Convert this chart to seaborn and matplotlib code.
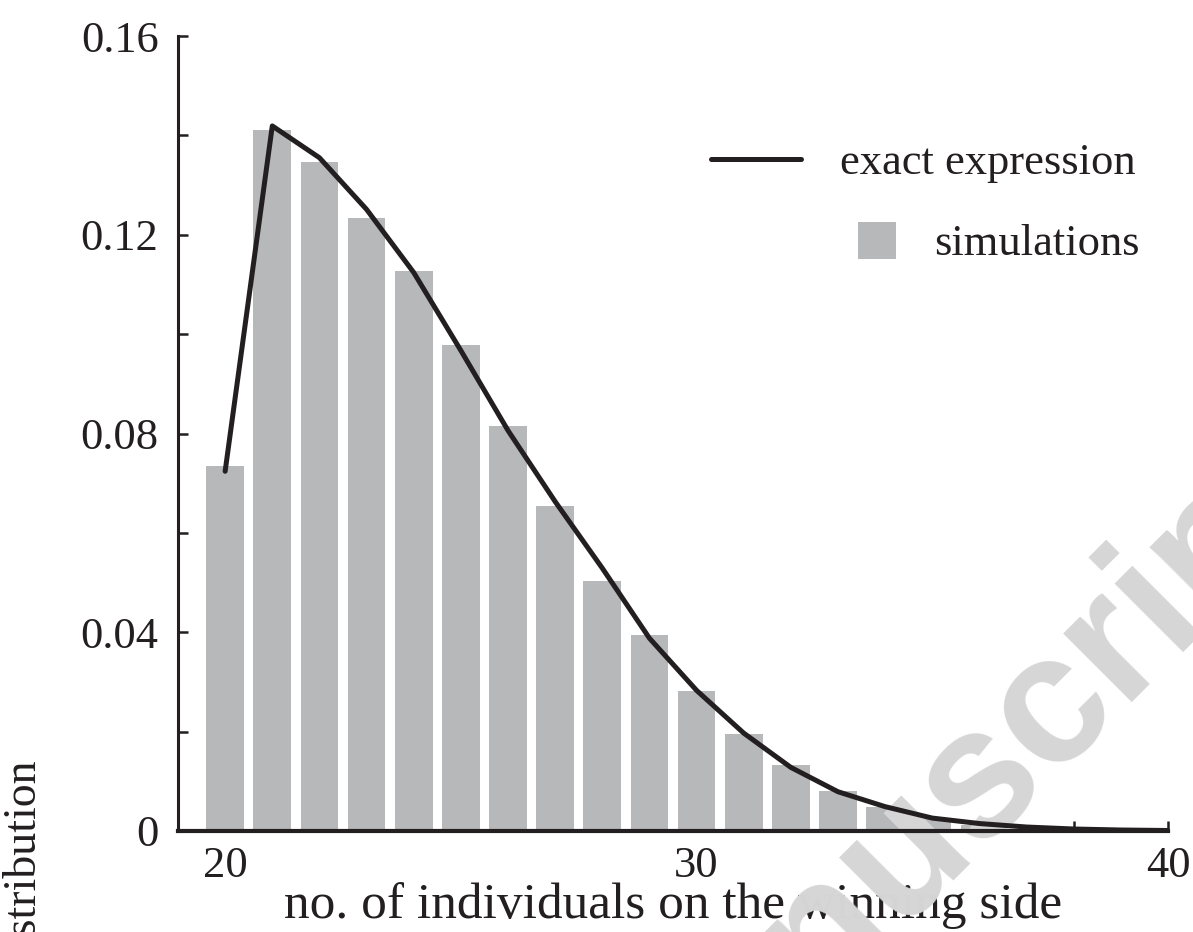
import matplotlib
matplotlib.use("Agg")
import matplotlib.pyplot as plt
import seaborn as sns
import pandas as pd
from matplotlib.lines import Line2D
from matplotlib.patches import Patch

# values
n_winning = list(range(20, 41))
sim_freq = [0.0734, 0.1411, 0.1347, 0.1234, 0.1128, 0.0979, 0.0816, 0.0655,
            0.0503, 0.0394, 0.0282, 0.0195, 0.0133, 0.0080, 0.0049, 0.0026,
            0.0012, 0.0005, 0.0002, 0.0001, 0.0000]
exact_freq = [0.0724, 0.1419, 0.1355, 0.1251, 0.1124, 0.0967, 0.0806, 0.0663,
              0.0529, 0.0388, 0.0283, 0.0197, 0.0128, 0.0079, 0.0049, 0.0026,
              0.0015, 0.0008, 0.0004, 0.0002, 0.0001]
y_major = [0, 0.04, 0.08, 0.12, 0.16]
y_labels = ["0", "0.04", "0.08", "0.12", "0.16"]
y_minor = [0.02, 0.06, 0.10, 0.14]
x_major = [20, 30, 40]
x_minor = [22, 24, 26, 28, 32, 34, 36, 38]

BAR = "#b7b8ba"
INK = "#231f20"
FS = 32       # tick labels / legend
FS_LAB = 37   # x title

sns.set_style("ticks")
plt.rcParams["font.family"] = ["Liberation Serif", "DejaVu Serif"]

df = pd.DataFrame({"n": n_winning, "sim": sim_freq, "exact": exact_freq})

fig = plt.figure(figsize=(11.93, 9.32), dpi=100)
ax = fig.add_axes([178 / 1193, 1 - 831 / 932, 990 / 1193, 795 / 932])

sns.barplot(data=df, x="n", y="sim", native_scale=True, width=0.8,
            color=BAR, saturation=1, edgecolor="none", ax=ax, zorder=1)
sns.lineplot(data=df, x="n", y="exact", color=INK, linewidth=3.6, ax=ax,
             zorder=3)

ax.set_xlim(19, 40)
ax.set_ylim(0, 0.16)
ax.set_xticks(x_major)
ax.set_xticklabels([str(v) for v in x_major])
ax.set_xticks(x_minor, minor=True)
ax.set_yticks(y_major)
ax.set_yticklabels(y_labels)
ax.set_yticks(y_minor, minor=True)

for side in ["top", "right"]:
    ax.spines[side].set_visible(False)
ax.spines["left"].set_linewidth(2.2)
ax.spines["bottom"].set_linewidth(3.0)
for s in ["left", "bottom"]:
    ax.spines[s].set_color(INK)
    ax.spines[s].set_zorder(4)

ax.tick_params(which="both", direction="in", length=7, width=1.8,
               color=INK, labelsize=FS, labelcolor=INK)
ax.tick_params(axis="y", which="both", pad=14)
ax.tick_params(axis="x", which="both", pad=11)

ax.set_xlabel("no. of individuals on the winning side", fontsize=FS_LAB,
              color=INK, labelpad=-3)
ax.set_ylabel("")
# y title sits mostly below the lower edge in the original
fig.text(23 / 1193, 1 - 758 / 932, "distribution", rotation=90,
         ha="center", va="top", fontsize=33, color=INK)

# legend entries, right aligned as in the original
leg1 = ax.legend(handles=[Line2D([], [], color=INK, linewidth=3.6)],
                 labels=["exact expression"], loc="center right",
                 bbox_to_anchor=(1135 / 1193, 1 - 163 / 932),
                 bbox_transform=fig.transFigure, frameon=False, borderpad=0,
                 borderaxespad=0, handlelength=2.03, handletextpad=0.86,
                 fontsize=FS, labelcolor=INK)
ax.add_artist(leg1)
ax.legend(handles=[Patch(facecolor=BAR, edgecolor="none")],
          labels=["simulations"], loc="center right",
          bbox_to_anchor=(1140 / 1193, 1 - 243 / 932),
          bbox_transform=fig.transFigure, frameon=False, borderpad=0,
          borderaxespad=0, handlelength=0.86, handleheight=0.9,
          handletextpad=0.86, fontsize=FS, labelcolor=INK)

# faint diagonal watermark
ax.text(950 / 1193, 1 - 805 / 932, "Manuscript", transform=fig.transFigure,
        rotation=45, rotation_mode="anchor", ha="center", va="center",
        fontsize=132, fontweight="bold", family=["Liberation Sans"],
        color="#d6d6d6", zorder=2, clip_on=False)

fig.savefig("out.png", dpi=100)
